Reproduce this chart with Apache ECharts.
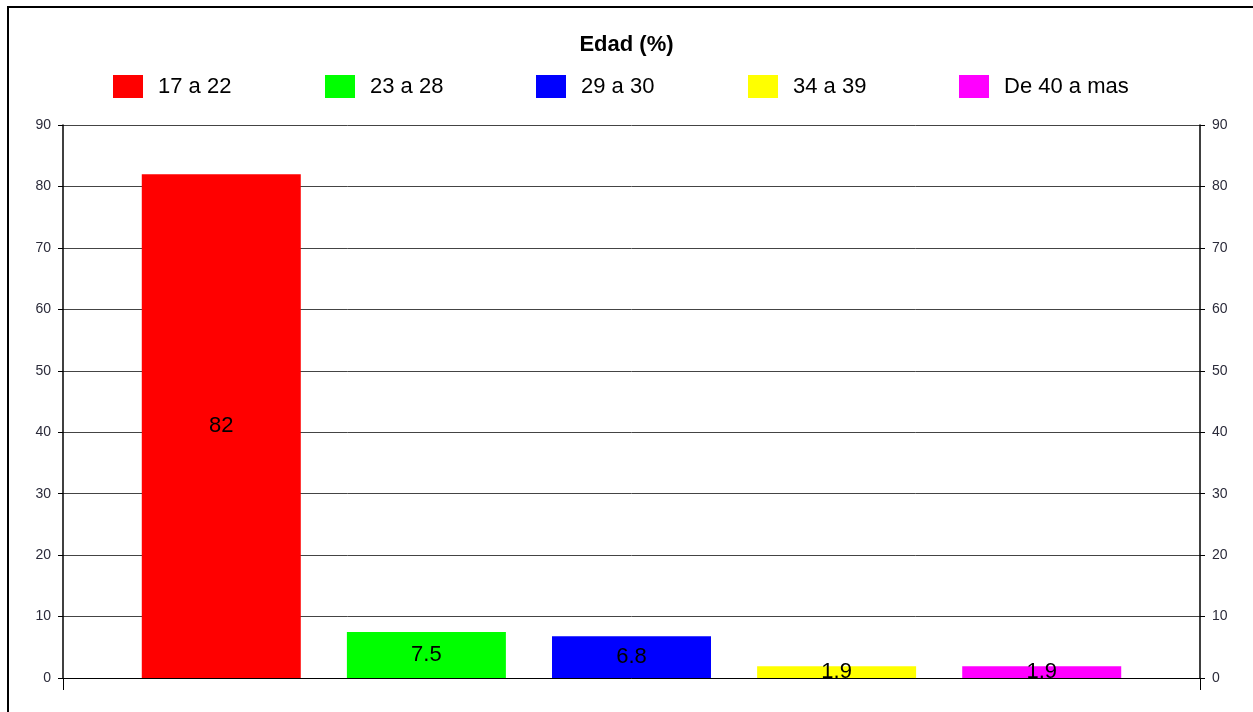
<!DOCTYPE html>
<html>
<head>
<meta charset="utf-8">
<script src="https://cdn.jsdelivr.net/npm/echarts@6/dist/echarts.min.js"></script>
<style>
  html, body { margin: 0; padding: 0; background: #fff; }
  #chart { width: 1253px; height: 712px; }
</style>
</head>
<body>
<div id="chart"></div>
<script>
// Data
const categories = ['Edad'];
const seriesNames = ['17 a 22', '23 a 28', '29 a 30', '34 a 39', 'De 40 a mas'];
const seriesValues = [82, 7.5, 6.8, 1.9, 1.9];
const seriesColors = ['#ff0000', '#00ff00', '#0000ff', '#ffff00', '#ff00ff'];

const myChart = echarts.init(document.getElementById('chart'));

const axisLabelStyle = { color: '#2b2b3a', fontSize: 14, fontFamily: 'Liberation Sans', margin: 12 };

const series = seriesNames.map((name, i) => ({
  name: name,
  type: 'bar',
  data: [seriesValues[i]],
  barWidth: 159,
  barGap: '29%',
  itemStyle: { color: seriesColors[i] },
  label: {
    show: true,
    position: 'inside',
    color: '#000',
    fontSize: 22,
    fontFamily: 'Liberation Sans'
  }
}));

// one legend block per series so items sit on an even spacing, like the original
const legends = seriesNames.map((name, i) => ({
  left: Math.round(108 + 211.5 * i),
  top: 70,
  itemWidth: 30,
  itemHeight: 23,
  icon: 'rect',
  data: [name],
  textStyle: {
    fontSize: 22,
    color: '#000',
    fontFamily: 'Liberation Sans',
    padding: [0, 0, 0, 10]
  }
}));

const option = {
  animation: false,
  backgroundColor: '#fff',
  title: {
    text: 'Edad (%)',
    left: 'center',
    top: 29,
    textStyle: { fontSize: 22, fontWeight: 'bold', color: '#000', fontFamily: 'Liberation Sans' }
  },
  legend: legends,
  grid: { left: 63, right: 53, top: 125, bottom: 34, containLabel: false },
  xAxis: {
    type: 'category',
    data: categories,
    axisLine: { lineStyle: { color: '#000', width: 1 } },
    axisTick: { show: true, length: 12, lineStyle: { color: '#000' } },
    axisLabel: { show: false }
  },
  yAxis: [
    {
      type: 'value',
      min: 0,
      max: 90,
      interval: 10,
      axisLine: { show: true, lineStyle: { color: '#000', width: 1.5 } },
      axisTick: { show: true, length: 5, lineStyle: { color: '#000' } },
      axisLabel: axisLabelStyle,
      splitLine: { show: true, lineStyle: { color: '#444', width: 1 } }
    },
    {
      type: 'value',
      min: 0,
      max: 90,
      interval: 10,
      position: 'right',
      axisLine: { show: true, lineStyle: { color: '#000', width: 1.5 } },
      axisTick: { show: true, length: 5, lineStyle: { color: '#000' } },
      axisLabel: axisLabelStyle,
      splitLine: { show: false }
    }
  ],
  graphic: [
    {
      type: 'rect',
      shape: { x: 8, y: 7, width: 1300, height: 800 },
      style: { fill: 'none', stroke: '#000', lineWidth: 2 },
      silent: true,
      z: 100
    }
  ],
  series: series
};

myChart.setOption(option);
</script>
</body>
</html>
